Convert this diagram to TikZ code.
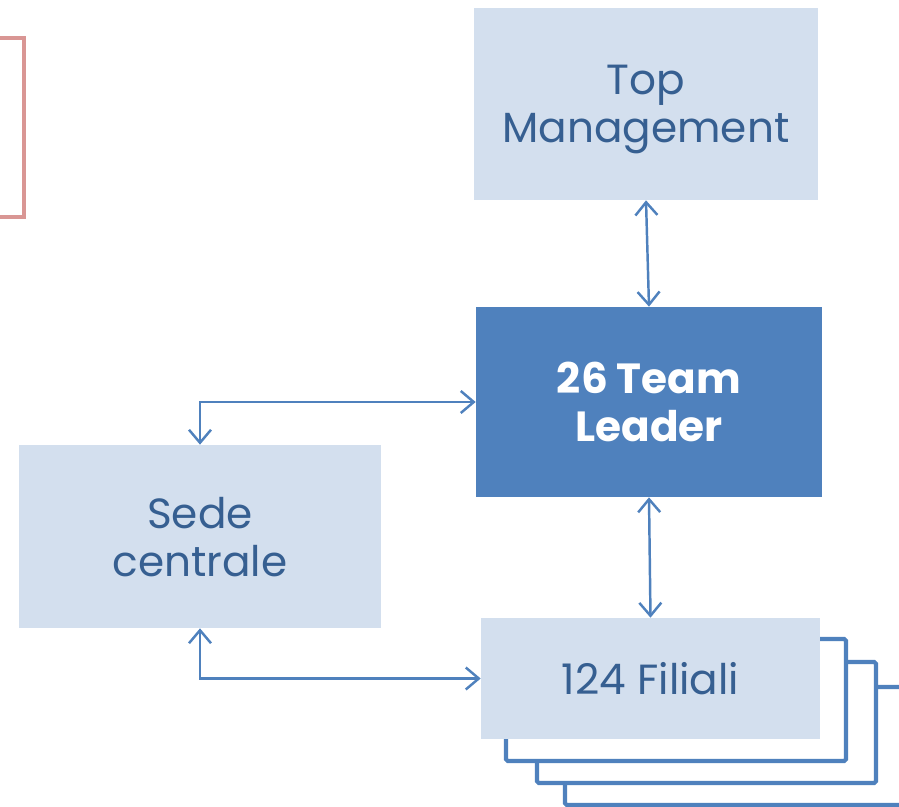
\documentclass[tikz,border=0pt]{standalone}
\usepackage{fontspec}
\setmainfont{Poppins}
\usepackage{xcolor}
\usetikzlibrary{arrows.meta, positioning}
\definecolor{boxlight}{RGB}{211,223,238}
\definecolor{boxdark}{RGB}{79,129,189}
\definecolor{txtblue}{RGB}{54,95,145}
\definecolor{pinkline}{RGB}{217,150,148}

\begin{document}
\begin{tikzpicture}[x=0.02cm, y=-0.02cm,
  lightbox/.style={fill=boxlight, text=txtblue, align=center, inner sep=0pt, text depth=-3pt,
    font=\fontsize{24}{27.3}\selectfont},
  darkbox/.style={fill=boxdark, text=white, align=center, inner sep=0pt, text depth=-3pt,
    font=\fontsize{24}{27.3}\selectfont\bfseries},
  link/.style={boxdark, line width=1.4pt, {Straight Barb[length=2.6mm,width=4.4mm]}-{Straight Barb[length=2.6mm,width=4.4mm]}},
  stack/.style={boxdark, line width=2.3pt, fill=white, rounded corners=1pt}]
\clip (0,0) rectangle (899,807);
\draw[pinkline, line width=2.3pt] (-20,38) rectangle (24,217);

% stacked sheets behind the branches
\draw[stack] (565,687) rectangle (930,805);
\draw[stack] (537,662) rectangle (876,783);
\draw[stack] (506,639) rectangle (846,761);

\node[lightbox, minimum width=6.88cm, minimum height=3.84cm] (top) at (646,104) {Top\\Management};
\node[darkbox, minimum width=6.92cm, minimum height=3.8cm] (lead) at (649,402) {26 Team\\Leader};
\node[lightbox, minimum width=7.24cm, minimum height=3.66cm] (sede) at (200,536.5) {Sede\\centrale};
\node[lightbox, minimum width=6.78cm, minimum height=2.42cm] (fil) at (650.5,678.5) {124 Filiali};

\draw[link] (top.south) -- (lead.north);
\draw[link] (lead.south) -- (fil.north);
\draw[link] (sede.north) |- (lead.west);
\draw[link] (sede.south) |- (fil.west);
\end{tikzpicture}
\end{document}
